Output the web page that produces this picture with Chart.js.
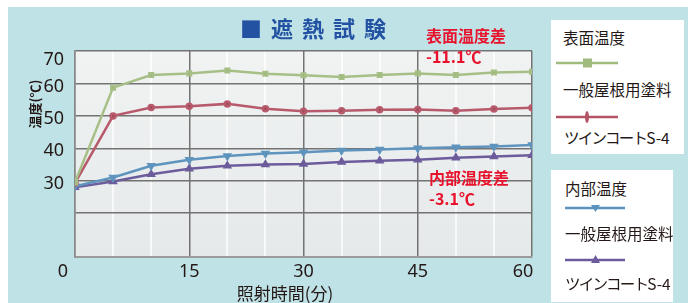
<!DOCTYPE html>
<html>
<head>
<meta charset="utf-8">
<script src="https://cdn.jsdelivr.net/npm/chart.js@4.4.0/dist/chart.umd.min.js"></script>
<style>
  body { margin:0; background:#fff; width:688px; height:303px; overflow:hidden; position:relative;
         font-family:"Noto Sans CJK JP","Noto Sans",sans-serif; }
  #panel { position:absolute; left:8px; top:7px; width:680px; height:296px; background:#bfe2e7; }
  #wrap { position:absolute; left:0; top:0; width:688px; height:303px; }
  #title { position:absolute; top:11px; left:240px; font-size:22px; font-weight:bold; color:#2352a3; letter-spacing:9px; white-space:nowrap; }
  .note { position:absolute; font-size:16px; font-weight:bold; color:#e8122c; line-height:21px; white-space:nowrap; }
  .box { position:absolute; background:#fff; }
  .lg { position:absolute; font-size:15.5px; color:#231815; white-space:nowrap; line-height:18px; }
  .kt { letter-spacing:-1.8px; }
  svg { position:absolute; }
</style>
</head>
<body>
<div id="panel"></div>
<div id="wrap"><canvas id="myChart" width="688" height="303"></canvas></div>

<div id="title">■遮熱試験</div>
<div class="note" style="left:426px; top:25px;">表面温度差<br>-11.1℃</div>
<div class="note" style="left:429px; top:167px;">内部温度差<br>-3.1℃</div>

<div class="box" style="left:551px; top:20px; width:133px; height:134px;"></div>
<div class="lg" style="left:563px; top:28px;">表面温度</div>
<svg style="left:556px; top:57px;" width="64" height="14">
  <line x1="0" y1="6" x2="62" y2="6" stroke="#9fbb7e" stroke-width="2.5"/>
  <rect x="27" y="1.5" width="9" height="9" fill="#9fbb7e"/>
</svg>
<div class="lg" style="left:563px; top:80px;">一般屋根用塗料</div>
<svg style="left:556px; top:109px;" width="64" height="16">
  <line x1="0" y1="8" x2="62" y2="8" stroke="#b45266" stroke-width="2.5"/>
  <ellipse cx="31" cy="8" rx="2" ry="6" fill="#b45266"/>
</svg>
<div class="lg" style="left:564px; top:128px;"><span class="kt">ツインコート</span>S-4</div>

<div class="box" style="left:551px; top:170px; width:122px; height:132px;"></div>
<div class="lg" style="left:565px; top:179px;">内部温度</div>
<svg style="left:565px; top:202px;" width="62" height="12">
  <line x1="0" y1="6" x2="60" y2="6" stroke="#5b93be" stroke-width="2.5"/>
  <polygon points="26,3 35,3 30.5,10" fill="#5b93be"/>
</svg>
<div class="lg" style="left:565px; top:224px;">一般屋根用塗料</div>
<svg style="left:565px; top:253px;" width="62" height="12">
  <line x1="0" y1="7" x2="60" y2="7" stroke="#6b5b9e" stroke-width="2.5"/>
  <polygon points="26,10 35,10 30.5,2" fill="#6b5b9e"/>
</svg>
<div class="lg" style="left:565px; top:274px;"><span class="kt">ツインコート</span>S-4</div>

<script>
var times = [0, 5, 10, 15, 20, 25, 30, 35, 40, 45, 50, 55, 60];
var surfaceGeneral = [29.5, 58.7, 62.6, 63.1, 64.0, 63.0, 62.5, 62.0, 62.6, 63.1, 62.6, 63.4, 63.6];
var surfaceS4 = [29.3, 50.0, 52.6, 53.0, 53.7, 52.2, 51.4, 51.6, 51.9, 52.0, 51.6, 52.1, 52.5];
var innerGeneral = [28.3, 31.0, 34.6, 36.5, 37.6, 38.4, 38.8, 39.3, 39.6, 40.0, 40.3, 40.6, 41.0];
var innerS4 = [28.0, 29.8, 32.0, 33.7, 34.6, 35.0, 35.2, 35.8, 36.2, 36.5, 37.1, 37.5, 37.9];
var xTicks = [0, 15, 30, 45, 60];
var yTicks = [30, 40, 50, 60, 70];

function pts(arr) {
    return arr.map(function (v, i) { return { x: times[i], y: v }; });
}

var plotBg = {
    id: 'plotBg',
    beforeDraw: function (chart) {
        var a = chart.chartArea, ctx = chart.ctx;
        var g = ctx.createLinearGradient(0, a.top, 0, a.bottom);
        g.addColorStop(0, '#f1f3f3');
        g.addColorStop(1, '#e5e9e9');
        ctx.save();
        ctx.fillStyle = g;
        ctx.fillRect(a.left, a.top, a.right - a.left, a.bottom - a.top);
        ctx.restore();
    }
};

// tick labels are drawn by hand to get the slightly uneven placement of the original
var extraText = {
    id: 'extraText',
    afterDraw: function (chart) {
        var ctx = chart.ctx, xs = chart.scales.x, ys = chart.scales.y;
        ctx.save();
        ctx.fillStyle = '#231815';
        ctx.font = '18px "Noto Sans", sans-serif';
        ctx.textAlign = 'center';
        ctx.textBaseline = 'middle';
        xTicks.forEach(function (v) {
            var shift = v === 0 ? -12 : (v === 60 ? -9 : 0);
            ctx.fillText(String(v), xs.getPixelForValue(v) + shift, 272);
        });
        ctx.textAlign = 'right';
        yTicks.forEach(function (v) {
            var shift = v === 70 ? 9 : 3;
            ctx.fillText(String(v), 64, ys.getPixelForValue(v) + shift);
        });
        ctx.textAlign = 'center';
        ctx.font = '17px "Noto Sans CJK JP", sans-serif';
        ctx.fillText('照射時間(分)', 285, 294);
        // y axis title
        ctx.translate(35, 104);
        ctx.rotate(-Math.PI / 2);
        ctx.font = 'bold 13px "Noto Sans CJK JP", sans-serif';
        ctx.fillText('温度(℃)', 0, 0);
        ctx.restore();
    }
};

var ctx = document.getElementById("myChart").getContext('2d');
var myChart = new Chart(ctx, {
    type: 'line',
    data: {
        datasets: [{
            label: '表面温度 一般屋根用塗料',
            data: pts(surfaceGeneral),
            borderColor: '#a6bf86',
            backgroundColor: '#8ea572',
            borderWidth: 2.5,
            pointStyle: 'rect',
            pointRadius: 2.5
        }, {
            label: '表面温度 ツインコートS-4',
            data: pts(surfaceS4),
            borderColor: '#b75a6c',
            backgroundColor: '#9e4a5a',
            borderWidth: 2.5,
            pointStyle: 'circle',
            pointRadius: 2.5
        }, {
            label: '内部温度 一般屋根用塗料',
            data: pts(innerGeneral),
            borderColor: '#5e94bd',
            backgroundColor: '#4f82aa',
            borderWidth: 2.5,
            pointStyle: 'triangle',
            rotation: 180,
            pointRadius: 3
        }, {
            label: '内部温度 ツインコートS-4',
            data: pts(innerS4),
            borderColor: '#6c5c9c',
            backgroundColor: '#574a85',
            borderWidth: 2.5,
            pointStyle: 'triangle',
            pointRadius: 3
        }]
    },
    options: {
        responsive: false,
        animation: false,
        layout: { padding: { left: 8, top: 51, right: 156, bottom: 0 } },
        plugins: {
            legend: { display: false },
            tooltip: { enabled: false }
        },
        scales: {
            x: {
                type: 'linear',
                min: 0,
                max: 60,
                ticks: { stepSize: 5, display: false },
                grid: {
                    drawTicks: false,
                    color: function (c) {
                        return c.tick.value % 15 === 0 ? '#737373' : 'rgba(255,255,255,0.7)';
                    },
                    lineWidth: function (c) {
                        return c.tick.value % 15 === 0 ? 1.5 : 2;
                    }
                },
                border: { color: '#9a9a9a', width: 2 },
                afterFit: function (s) { s.height = 46; }
            },
            y: {
                min: 6.5,
                max: 70,
                ticks: { stepSize: 10, display: false },
                grid: { drawTicks: false, color: '#737373', lineWidth: 1.5 },
                border: { color: '#8a8a8a', width: 1.5 },
                afterFit: function (s) { s.width = 67; }
            }
        }
    },
    plugins: [plotBg, extraText]
});
</script>
</body>
</html>
